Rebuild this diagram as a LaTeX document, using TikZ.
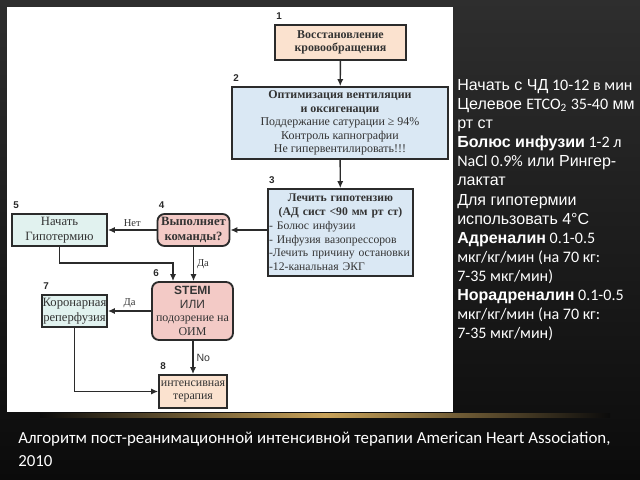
\documentclass[tikz,border=0pt]{standalone}
\usepackage{fontspec}
\setmainfont{Liberation Serif}
\setsansfont{Liberation Sans}
\newfontfamily\calibri{Carlito}
\usepackage{tikz}
\usetikzlibrary{arrows.meta, positioning}
\definecolor{PeachFill}{HTML}{FBE2CF}
\definecolor{IceBlue}{HTML}{DAE8F4}
\definecolor{RosePink}{HTML}{F3CAC6}
\definecolor{MintFill}{HTML}{E1F2EF}
\definecolor{InkGray}{HTML}{2B2B2B}
\definecolor{TextGray}{HTML}{333333}
\definecolor{GoldLine}{HTML}{C9A35A}
\definecolor{SlideBlack}{HTML}{0B0B0B}
\tikzset{
  stepbox/.style={rectangle, draw=InkGray, line width=1.3pt, text=TextGray, font=\fontsize{8.5}{9.6}\selectfont, align=center, inner sep=1pt},
  peachbox/.style={stepbox, fill=PeachFill},
  bluebox/.style={stepbox, fill=IceBlue},
  pinkbox/.style={stepbox, fill=RosePink, rounded corners=5pt},
  mintbox/.style={stepbox, fill=MintFill},
  bigtext/.style={font=\fontsize{9}{11}\selectfont},
  numlabel/.style={font=\sffamily\bfseries\fontsize{7}{8}\selectfont, text=InkGray, inner sep=0pt},
  yesno/.style={font=\fontsize{7.5}{9}\selectfont, text=TextGray, inner sep=2pt},
  flow/.style={-{Latex[length=5pt, width=4.5pt]}, line width=1pt, InkGray}
}
\newcommand{\ar}{\sffamily}
\newcommand{\cb}{\calibri}

\begin{document}
\begin{tikzpicture}[x=0.025cm, y=-0.025cm]
  \useasboundingbox (0,0) rectangle (640,480);
  \shade[top color=black!82, bottom color=SlideBlack] (0,0) rectangle (640,480);
  \fill[white] (7,7) rectangle (453,412);
  \shade[left color=SlideBlack, right color=SlideBlack, middle color=GoldLine] (40,413) rectangle (610,417);

  \node[peachbox, minimum width=3.275cm, minimum height=0.875cm] (rosc) at (340.5,42.5) {\textbf{Восстановление}\\\textbf{кровообращения}};
  \node[bluebox, minimum width=5.4cm, minimum height=1.8cm] (vent) at (340,123) {\textbf{Оптимизация вентиляции}\\\textbf{и оксигенации}\\Поддержание сатурации ≥ 94\%\\Контроль капнографии\\Не гипервентилировать!!!};
  \node[bluebox, minimum width=3.625cm, minimum height=2.175cm, text width=3.57cm, align=left, font=\fontsize{8.3}{9.8}\selectfont] (hypo) at (340.5,232.5) {\makebox[\linewidth]{\textbf{Лечить гипотензию}}\\\makebox[\linewidth]{\textbf{(АД сист <90 мм рт ст)}}\\- Болюс инфузии\\- Инфузия вазопрессоров\\-Лечить причину остановки\\-12-канальная ЭКГ};
  \node[pinkbox, bigtext, minimum width=1.8cm, minimum height=0.8cm] (obey) at (193.5,230) {\textbf{Выполняет}\\\textbf{команды?}};
  \node[mintbox, bigtext, minimum width=2.375cm, minimum height=0.8cm] (cool) at (59.5,230) {Начать\\Гипотермию};
  \node[pinkbox, minimum width=2.025cm, minimum height=1.45cm] (stemi) at (192.5,311) {{\sffamily\bfseries STEMI}\\{\sffamily ИЛИ}\\подозрение на\\ОИМ};
  \node[mintbox, bigtext, minimum width=1.625cm, minimum height=0.8cm, inner sep=0pt] (reperf) at (74.5,311) {Коронарная\\реперфузия};
  \node[peachbox, minimum width=1.7cm, minimum height=0.825cm, inner sep=0pt] (icu) at (193,391.5) {интенсивная\\терапия};

  \node[numlabel, above right=3pt and 1.5pt of rosc.north west] {1};
  \node[numlabel, above right=3pt and 1.5pt of vent.north west] {2};
  \node[numlabel, above right=3pt and 1.5pt of hypo.north west] {3};
  \node[numlabel, above right=3pt and 1.5pt of obey.north west] {4};
  \node[numlabel, above right=3pt and 1.5pt of cool.north west] {5};
  \node[numlabel, above right=3pt and 1.5pt of stemi.north west] {6};
  \node[numlabel, above right=3pt and 1.5pt of reperf.north west] {7};
  \node[numlabel, above right=3pt and 1.5pt of icu.north west] {8};

  \coordinate (coolturn) at (173,263);

  \draw[flow] (rosc) -- (vent);
  \draw[flow] (vent) -- (hypo);
  \draw[flow] (hypo.west |- obey.east) -- (obey.east);
  \draw[flow] (obey) -- node[yesno, above] {Нет} (cool);
  \draw[flow] (obey) -- node[yesno, right] {Да} (obey |- stemi.north);
  \draw[flow] (cool.south) |- (coolturn) -- (coolturn |- stemi.north);
  \draw[flow] (stemi.west |- reperf.east) -- node[yesno, above] {Да} (reperf.east);
  \draw[flow] (stemi.south -| icu.north) -- node[yesno, right, font=\sffamily\fontsize{7.5}{9}\selectfont] {No} (icu.north);
  \draw[flow] (reperf.south) |- (icu.west);

  \node[anchor=north west, text=white, align=left, inner sep=0pt, font=\ar\fontsize{11.4}{13.6}\selectfont] (notes) at (457,79) {%
    Начать с ЧД{\cb\ 10-12 в мин}\\
    Целевое {\cb ETCO\textsubscript{2} 35-40} мм\\
    рт ст\\
    \textbf{Болюс инфузии}{\cb\ 1-2 л}\\
    {\cb NaCl 0.9\%} или Рингер-\\
    лактат\\
    Для гипотермии\\
    использовать 4°C\\
    \textbf{Адреналин}{\cb\ 0.1-0.5}\\
    {\cb мкг/кг/мин (на 70 кг:}\\
    {\cb 7-35 мкг/мин)}\\
    \textbf{Норадреналин}{\cb\ 0.1-0.5}\\
    {\cb мкг/кг/мин (на 70 кг:}\\
    {\cb 7-35 мкг/мин)}};

  \node[anchor=north west, text=white, align=left, inner sep=0pt, font=\cb\fontsize{12}{16.3}\selectfont] (caption) at (18,432) {Алгоритм пост-реанимационной интенсивной терапии American Heart Association,\\2010};
\end{tikzpicture}
\end{document}
